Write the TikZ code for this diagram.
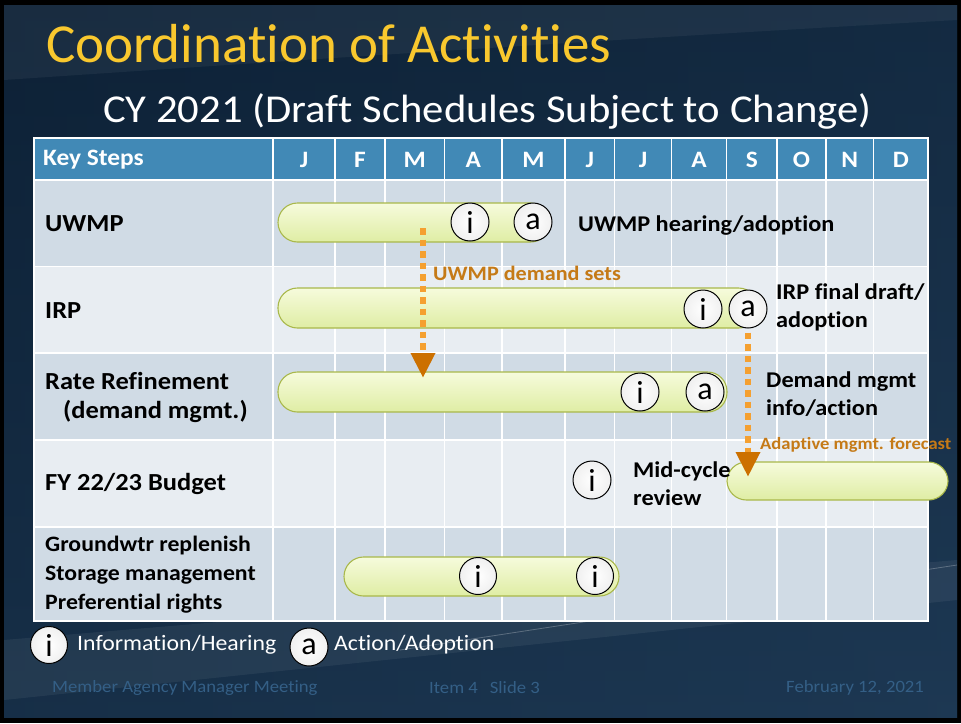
\documentclass[tikz,border=0pt]{standalone}
\usepackage{fontspec}
\setmainfont{Carlito}[FakeStretch=1.08, Ligatures=NoCommon]
\newfontfamily\titlefont{Carlito}[Ligatures=NoCommon]
\usetikzlibrary{arrows.meta,shadings,calc}
\definecolor{hdr}{HTML}{4189B6}
\definecolor{rowd}{HTML}{D0DBE5}
\definecolor{rowl}{HTML}{E8EDF2}
\definecolor{barln}{HTML}{A9B84B}
\definecolor{bartop}{HTML}{F6FBDC}
\definecolor{barbot}{HTML}{DFEDA4}
\definecolor{orlab}{HTML}{C57A17}
\definecolor{ordot}{HTML}{F5A030}
\definecolor{ortip}{HTML}{CC7000}
\definecolor{foot}{HTML}{345F86}
\definecolor{bgdark}{HTML}{0D2136}
\definecolor{bgmid}{HTML}{1D3853}
\definecolor{ttl}{HTML}{F9C82E}
\tikzset{
  bar/.style={draw=barln, line width=1.1pt, rounded corners=19.5pt, top color=bartop, bottom color=barbot, inner sep=0pt},
  ic/.style={circle, draw=black, line width=1pt, inner color=white, outer color=gray!12, minimum size=38pt, inner sep=0pt, font=\titlefont\fontsize{32}{32}\selectfont, text=black},
  rowlab/.style={anchor=west, font=\fontsize{24.5}{25}\selectfont\bfseries, text=black, inner sep=0pt},
  gwlab/.style={anchor=west, font=\fontsize{22}{25}\selectfont\bfseries, text=black, inner sep=0pt},
  side/.style={anchor=west, font=\fontsize{22.5}{28}\selectfont\bfseries, text=black, inner sep=0pt, align=left},
  orl/.style={anchor=west, font=\bfseries, text=orlab, inner sep=0pt},
  dotarrow/.style={draw=ordot, line width=6.5pt, dash pattern=on 6.5pt off 5pt, -{Triangle[color=ortip, width=23pt, length=25pt]}},
  mon/.style={font=\fontsize{23.5}{23.5}\selectfont\bfseries, text=white, inner sep=0pt},
  leg/.style={anchor=west, font=\fontsize{22}{22}\selectfont, text=white, inner sep=0pt},
  ft/.style={anchor=west, font=\fontsize{17.3}{17.3}\selectfont, text=foot, inner sep=0pt}
}
\begin{document}
\begin{tikzpicture}[x=1pt,y=-1pt]
\useasboundingbox (0,0) rectangle (961,723);
% background
\fill[black] (0,0) rectangle (961,723);
\shade[left color=bgdark, right color=bgmid] (4,5) rectangle (957,717);
\shade[top color=bgdark, bottom color=bgmid, opacity=0.6] (4,5) rectangle (957,717);
\fill[white, opacity=0.06] (4,640) -- (957,560) -- (957,600) -- (4,700) -- cycle;
\draw[white, opacity=0.25, line width=0.8pt] (400,650) -- (957,565);
\fill[white, opacity=0.05] (4,80) .. controls (300,60) and (600,40) .. (957,20) -- (957,5) -- (4,5) -- cycle;
% titles
\node[anchor=base west, inner sep=0pt, font=\titlefont\fontsize{55}{55}\selectfont, text=ttl] (title) at (46,62) {Coordination of Activities};
\node[anchor=base west, inner sep=0pt, font=\fontsize{39.5}{39.5}\selectfont, text=white] (sub) at (103,122) {CY 2021 (Draft Schedules Subject to Change)};
% table rows
\fill[hdr] (34,138) rectangle (928,180);
\fill[rowd] (34,180) rectangle (928,266.5);
\fill[rowl] (34,266.5) rectangle (928,353);
\fill[rowd] (34,353) rectangle (928,440);
\fill[rowl] (34,440) rectangle (928,527);
\fill[rowd] (34,527) rectangle (928,621);
% grid
\foreach \xx in {273,335,385,444.5,502,565,614.5,671.5,726.5,777,826,873.5}
  \draw[white, line width=1.6pt] (\xx,138) -- (\xx,621);
\foreach \yy in {180,266.5,353,440,527}
  \draw[white, line width=1.8pt] (34,\yy) -- (928,\yy);
\draw[white, line width=1.4pt] (34,138) rectangle (928,621);
% header text
\node[anchor=west, font=\fontsize{23.5}{23.5}\selectfont\bfseries, text=white, inner sep=0pt] (ks) at (43,160) {Key Steps};
\foreach \m/\xx in {J/304, F/360, M/414.75, A/473.25, M/533.5, J/589.75, J/643, A/699, S/751.75, O/801.5, N/849.75, D/900.75}
  \node[mon] at (\xx,160) {\m};
% row labels
\node[rowlab] (l1) at (45,224) {UWMP};
\node[rowlab] (l2) at (45,311) {IRP};
\node[rowlab] (l3) at (45,381) {Rate Refinement};
\node[rowlab] (l3b) at (63,411) {(demand mgmt.)};
\node[rowlab] (l4) at (45,484) {FY 22/23 Budget};
\node[gwlab] (l5a) at (45,546) {Groundwtr replenish};
\node[gwlab] (l5b) at (45,575) {Storage management};
\node[gwlab] (l5c) at (45,604) {Preferential rights};
% bars
\node[bar, minimum width=272pt, minimum height=39pt] (uwmpbar) at (414,222.5) {};
\node[bar, minimum width=480pt, minimum height=40pt] (irpbar) at (518,308) {};
\node[bar, minimum width=449pt, minimum height=40pt] (ratebar) at (502.5,392) {};
\node[bar, minimum width=221pt, minimum height=38pt] (fybar) at (837.5,481) {};
\node[bar, minimum width=275pt, minimum height=39pt] (gwbar) at (481.5,576.5) {};
% markers
\node[ic] (ui) at (470,222) {i};
\node[ic] (ua) at (533,222) {a};
\node[ic] (ii) at (703,309) {i};
\node[ic] (ia) at (748,309) {a};
\node[ic] (ri) at (640,392) {i};
\node[ic] (ra) at (705,392) {a};
\node[ic] (fi) at (592,480) {i};
\node[ic, minimum size=37pt] (gi1) at (478,576) {i};
\node[ic, minimum size=37pt] (gi2) at (595,576) {i};
% side texts
\node[side] (ut) at (578,226) {UWMP hearing/adoption};
\node[side] (it) at (776,307) {IRP final draft/\\adoption};
\node[side] (rt) at (766,394) {Demand mgmt\\info/action};
\node[side] (ft) at (633,484) {Mid-cycle\\review};
% arrows
\coordinate (a1s) at (423,228);
\coordinate (a1e) at (423,378);
\draw[dotarrow] (a1s) -- (a1e);
\node[orl, font=\fontsize{20.5}{20.5}\selectfont\bfseries] (a1l) at (433,273) {UWMP demand sets};
\coordinate (a2e) at (748,477);
\draw[dotarrow] ([yshift=-4pt]ia.south) -- (a2e);
\node[orl, font=\fontsize{17.2}{17.2}\selectfont\bfseries] (a2l) at (760,445) {Adaptive mgmt. forecast};
% legend
\node[ic, minimum size=37pt] (li) at (49,645) {i};
\node[leg] (lit) at (77,645) {Information/Hearing};
\node[ic, minimum size=38pt] (la) at (309,647) {a};
\node[leg] (lat) at (334,645) {Action/Adoption};
% footer
\node[ft] (f1) at (52,688) {Member Agency Manager Meeting};
\node[ft] (f2) at (429,688) {Item 4\hspace{12pt}Slide 3};
\node[ft] (f3) at (786,688) {February 12, 2021};
\end{tikzpicture}
\end{document}
